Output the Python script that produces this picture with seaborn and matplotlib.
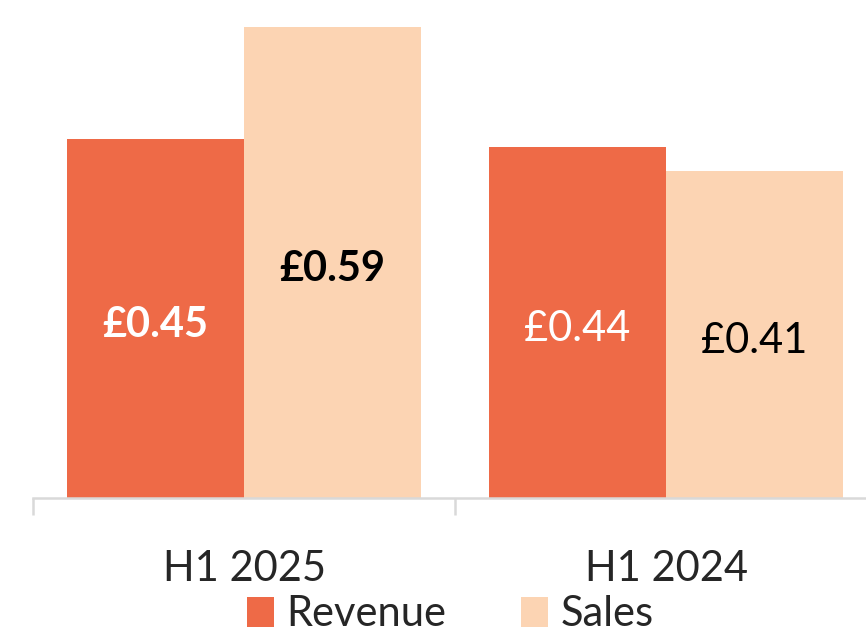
import matplotlib
matplotlib.use("Agg")
import matplotlib.pyplot as plt
import pandas as pd
import seaborn as sns

# data
periods = ["H1 2025", "H1 2024"]
series = ["Revenue", "Sales"]
revenue = [0.45, 0.44]
sales = [0.59, 0.41]
bold_period = [True, False]

colors = {"Revenue": "#EE6A47", "Sales": "#FCD4B3"}
label_colors = {"Revenue": "white", "Sales": "black"}

df = pd.DataFrame({
    "period": periods * 2,
    "series": ["Revenue"] * 2 + ["Sales"] * 2,
    "value": revenue + sales,
})

sns.set_style("white")
plt.rcParams["font.family"] = ["Lato", "DejaVu Sans"]

fig = plt.figure(figsize=(8.66, 6.36), dpi=100)
ax = fig.add_axes([33 / 866, 138 / 636, 844 / 866, 498 / 636])

sns.barplot(data=df, x="period", y="value", hue="series", order=periods,
            hue_order=series, palette=colors, width=0.84, gap=0,
            saturation=1, linewidth=0, ax=ax, legend=True)

# value labels in the middle of each bar
for cont, name in zip(ax.containers, series):
    for i, bar in enumerate(cont):
        h = bar.get_height()
        ax.text(bar.get_x() + bar.get_width() / 2, h / 2 - 0.008, f"£{h:.2f}",
                ha="center", va="center", fontsize=30,
                color=label_colors[name],
                fontweight="bold" if bold_period[i] else "normal")

ax.set_ylim(0, 0.624)
ax.set_xlim(-0.5, 1.5)
ax.set_xlabel("")
ax.set_ylabel("")
ax.set_yticks([])
for s in ["top", "right", "left"]:
    ax.spines[s].set_visible(False)
ax.spines["bottom"].set_color("#D9D9D9")
ax.spines["bottom"].set_linewidth(1.8)

ax.set_xticks([-0.5, 0.5, 1.5], minor=True)
ax.tick_params(axis="x", which="minor", bottom=True, length=12, width=1.8,
               color="#D9D9D9", direction="out")
ax.tick_params(axis="x", which="major", bottom=False, pad=34, labelsize=30)

handles, labels = ax.get_legend_handles_labels()
ax.get_legend().remove()
fig.legend(handles, labels, loc="lower center", ncol=2, frameon=False,
           fontsize=30, handlelength=0.65, handleheight=0.75,
           handletextpad=0.3, columnspacing=1.8,
           bbox_to_anchor=(0.52, -0.055))

fig.savefig("out.png", dpi=100)
